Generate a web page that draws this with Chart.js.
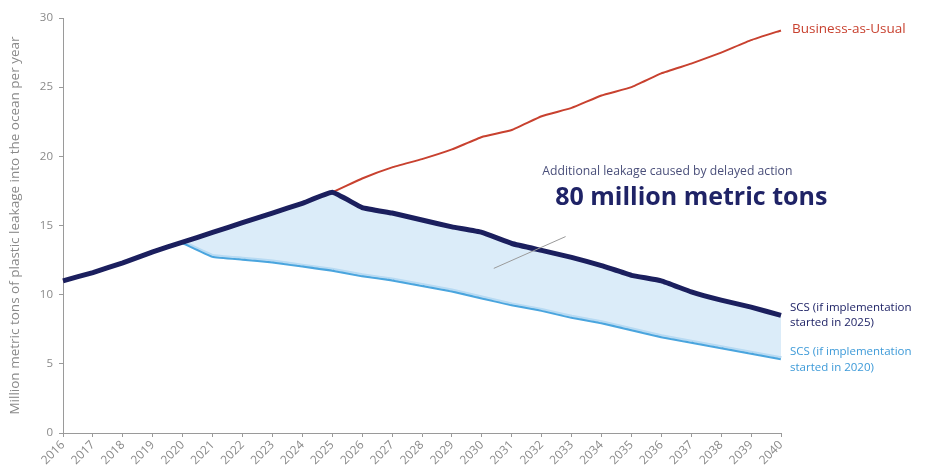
<!DOCTYPE html>
<html>
<head>
<meta charset="utf-8">
<script src="https://cdn.jsdelivr.net/npm/chart.js"></script>
<style>
  html, body { margin: 0; padding: 0; background: #fff; }
  #wrap { width: 926px; height: 468px; }
</style>
</head>
<body>
<div id="wrap"><canvas id="graphique"></canvas></div>
<script>
// Années
const annees = ['2016', '2017', '2018', '2019', '2020', '2021', '2022', '2023', '2024', '2025', '2026', '2027',
    '2028', '2029', '2030', '2031', '2032', '2033', '2034', '2035', '2036', '2037', '2038', '2039', '2040'];

// Business-as-Usual
const bau = [11.0, 11.6, 12.3, 13.1, 13.8, 14.5, 15.2, 15.9, 16.6, 17.4, 18.4, 19.2,
    19.8, 20.5, 21.4, 21.9, 22.9, 23.5, 24.4, 25.0, 26.0, 26.7, 27.5, 28.4, 29.1];

// SCS démarré en 2025
const scs2025 = [11.0, 11.6, 12.3, 13.1, 13.8, 14.5, 15.2, 15.9, 16.6, 17.4, 16.3, 15.9,
    15.4, 14.9, 14.5, 13.7, 13.2, 12.7, 12.1, 11.4, 11.0, 10.2, 9.6, 9.1, 8.5];

// SCS démarré en 2020
const scs2020 = [null, null, null, null, 13.8, 12.8, 12.6, 12.4, 12.1, 11.8, 11.4, 11.1,
    10.7, 10.3, 9.8, 9.3, 8.9, 8.4, 8.0, 7.5, 7.0, 6.6, 6.2, 5.8, 5.4];

const yTicks = [0, 5, 10, 15, 20, 25, 30];

const police = '"Open Sans", Lato, sans-serif';

// Étiquettes en bout de courbe + annotation
const etiquettes = {
    id: 'etiquettes',
    afterDatasetsDraw(chart) {
        const c = chart.ctx;
        const dernier = i => chart.getDatasetMeta(i).data[annees.length - 1];
        c.save();
        c.textBaseline = 'middle';
        c.textAlign = 'left';

        let p = dernier(0);
        c.fillStyle = '#c8412f';
        c.font = '13.5px ' + police;
        c.fillText('Business-as-Usual', p.x + 11, p.y - 1);

        p = dernier(1);
        c.fillStyle = '#1f2366';
        c.font = '11.5px ' + police;
        c.fillText('SCS (if implementation', p.x + 9, p.y - 8);
        c.fillText('started in 2025)', p.x + 9, p.y + 7);

        p = dernier(2);
        c.fillStyle = '#3d9ad8';
        c.fillText('SCS (if implementation', p.x + 9, p.y - 7);
        c.fillText('started in 2020)', p.x + 9, p.y + 9);

        // annotation centrale
        const xs = chart.scales.x, ys = chart.scales.y;
        c.textAlign = 'center';
        c.fillStyle = '#4a4f7a';
        c.font = '12.2px ' + police;
        c.fillText('Additional leakage caused by delayed action', xs.getPixelForValue(20.2), ys.getPixelForValue(18.9));
        c.fillStyle = '#1f2366';
        c.font = 'bold 25px ' + police;
        c.fillText('80 million metric tons', xs.getPixelForValue(21.0), ys.getPixelForValue(17.0));

        c.strokeStyle = '#9a9a9a';
        c.lineWidth = 1;
        c.beginPath();
        c.moveTo(xs.getPixelForValue(16.8), ys.getPixelForValue(14.2));
        c.lineTo(xs.getPixelForValue(14.4), ys.getPixelForValue(11.9));
        c.stroke();
        c.restore();
    }
};

const ctx = document.getElementById('graphique').getContext('2d');
new Chart(ctx, {
    type: 'line',
    data: {
        labels: annees,
        datasets: [{
            label: 'Business-as-Usual',
            data: bau,
            borderColor: '#c8412f',
            borderWidth: 2,
            pointRadius: 0,
            tension: 0.1,
            fill: false,
            order: 3
        },
        {
            label: 'SCS (if implementation started in 2025)',
            data: scs2025,
            borderColor: '#1b1f5e',
            borderWidth: 5,
            pointRadius: 0,
            tension: 0.1,
            fill: { target: 2 },
            backgroundColor: 'rgba(210, 231, 247, 0.8)',
            order: 1
        },
        {
            label: 'SCS (if implementation started in 2020)',
            data: scs2020,
            borderColor: '#4aa5de',
            borderWidth: 4,
            pointRadius: 0,
            tension: 0.1,
            fill: false,
            order: 2
        }]
    },
    options: {
        responsive: true,
        maintainAspectRatio: false,
        animation: false,
        layout: { padding: { top: 18, right: 145, left: 0, bottom: 0 } },
        plugins: {
            legend: { display: false },
            tooltip: { enabled: false }
        },
        scales: {
            x: {
                offset: false,
                grid: { drawOnChartArea: false, drawTicks: true, tickLength: 4, color: '#9a9a9a' },
                border: { color: '#9a9a9a', width: 1 },
                ticks: {
                    color: '#8a8a8a',
                    font: { family: police, size: 12 },
                    minRotation: 45,
                    maxRotation: 45,
                    autoSkip: false,
                    padding: 1
                },
                afterFit(scale) { scale.height = 35; }
            },
            y: {
                min: 0,
                max: 30,
                afterBuildTicks(scale) { scale.ticks = yTicks.map(v => ({ value: v })); },
                grid: { drawOnChartArea: false, drawTicks: true, tickLength: 4, color: '#9a9a9a' },
                border: { color: '#9a9a9a', width: 1 },
                ticks: {
                    color: '#8a8a8a',
                    font: { family: police, size: 11.5 },
                    padding: 6
                },
                title: {
                    display: true,
                    text: 'Million metric tons of plastic leakage into the ocean per year',
                    color: '#8a8a8a',
                    font: { family: police, size: 13.5 },
                    padding: { top: 7, bottom: 2 }
                },
                afterFit(scale) { scale.width = 63; }
            }
        }
    },
    plugins: [etiquettes]
});
</script>
</body>
</html>
